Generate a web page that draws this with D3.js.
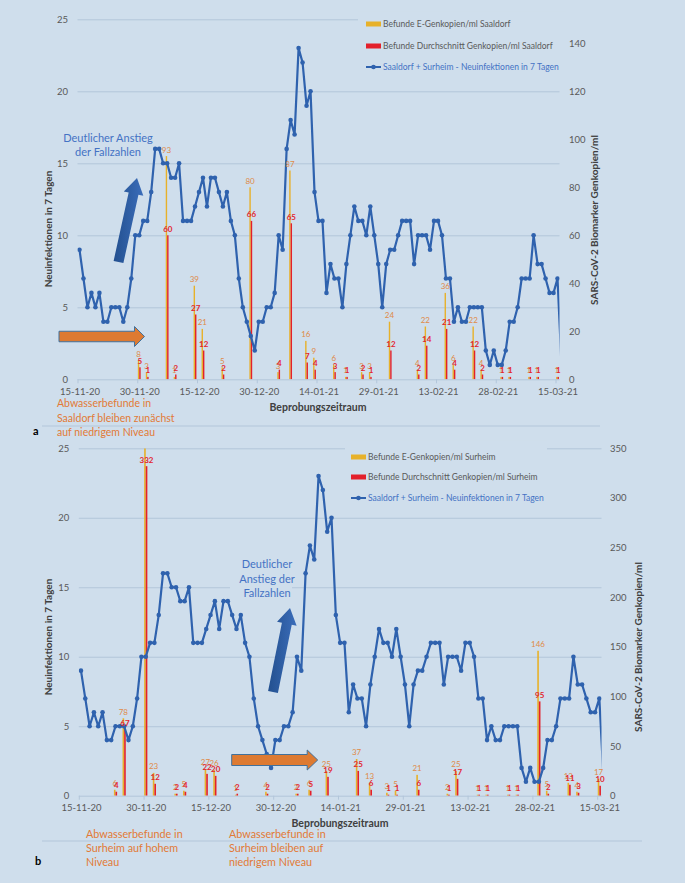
<!DOCTYPE html>
<html>
<head>
<meta charset="utf-8">
<script src="https://cdn.jsdelivr.net/npm/d3@7"></script>
<style>
  body { margin: 0; background: #cfdeec; }
  svg { display: block; font-family: Lato, "Open Sans", sans-serif; }
</style>
</head>
<body>
<script>
// daily 7-day new infections Saaldorf + Surheim, from 15-11-20 (last value is 16-03-21, clipped by the axis)
const caseStart = "15-11-20";
const cases = [
  9, 7, 5, 6, 5, 6, 4, 4, 5, 5, 5, 4, 5,
  7, 10, 10, 11, 11, 13, 16, 16, 15, 15, 14, 14, 15,
  11, 11, 11, 12, 13, 14, 12, 14, 14, 13, 12, 13, 11, 10,
  7, 5, 4, 3, 2, 4, 4, 5, 5, 6, 10, 9,
  16, 18, 17, 23, 22, 19, 20, 13, 11,
  11, 6, 8, 7, 7, 5, 8, 10, 12, 11, 11, 10, 12, 10, 8, 5, 8, 9, 9, 10,
  11, 11, 11, 8, 10, 10, 10, 9, 11, 11, 10, 7, 7, 4, 5, 4, 4, 5, 5, 5,
  5, 2, 1, 2, 1, 1, 2, 4, 4, 5, 7, 7, 7, 10, 8, 8, 7, 6, 6, 7,
  1
];
const axisLabels = ["15-11-20", "30-11-20", "15-12-20", "30-12-20", "14-01-21",
  "29-01-21", "13-02-21", "28-02-21", "15-03-21"];

// Saaldorf wastewater samples
const saaldorfDates = ["30-11-20", "02-12-20", "07-12-20", "09-12-20", "14-12-20", "16-12-20",
  "21-12-20", "28-12-20", "04-01-21", "07-01-21", "11-01-21", "13-01-21", "18-01-21",
  "21-01-21", "25-01-21", "27-01-21", "01-02-21", "08-02-21", "10-02-21", "15-02-21",
  "17-02-21", "22-02-21", "24-02-21", "01-03-21", "03-03-21", "08-03-21", "10-03-21", "15-03-21"];
const saaldorfE = [8, 3, 93, 1, 39, 21, 5, 80, 3, 87, 16, 9, 6, 1, 3, 3, 24, 4, 22, 36, 6, 22, 4, 1, 1, 1, 1, 1];
const saaldorfAvg = [5, 1, 60, 2, 27, 12, 2, 66, 4, 65, 7, 4, 3, 1, 2, 1, 12, 2, 14, 21, 4, 12, 2, 1, 1, 1, 1, 1];

// Surheim wastewater samples
const surheimDates = ["23-11-20", "25-11-20", "30-11-20", "02-12-20", "07-12-20", "09-12-20",
  "14-12-20", "16-12-20", "21-12-20", "28-12-20", "04-01-21", "07-01-21", "11-01-21",
  "18-01-21", "21-01-21", "25-01-21", "27-01-21", "01-02-21", "08-02-21", "10-02-21",
  "15-02-21", "17-02-21", "22-02-21", "24-02-21", "01-03-21", "03-03-21", "08-03-21",
  "10-03-21", "15-03-21"];
const surheimE = [6, 78, 400, 23, 2, 5, 27, 26, 1, 4, 2, 6, 25, 37, 13, 3, 5, 21, 2, 25, 1, 1, 1, 1, 146, 5, 13, 4, 17];
const surheimAvg = [4, 67, 332, 12, 2, 4, 22, 20, 2, 2, 2, 5, 19, 25, 6, 1, 1, 6, 1, 17, 1, 1, 1, 1, 95, 2, 11, 3, 10];

const bg = "#cfdeec", grid = "#b3c6da", axisText = "#595959";
const yellow = "#e7b12a", red = "#e3202b", lineBlue = "#2f62ae";
const orangeText = "#e27a36", blueText = "#4472c4";

const parse = d3.utcParse("%d-%m-%y");
const caseDates = cases.map((_, i) => d3.utcDay.offset(parse(caseStart), i));
const tickDates = axisLabels.map(parse);

const svg = d3.select("body").append("svg").attr("width", 685).attr("height", 883);

const defs = svg.append("defs");
const grad = defs.append("linearGradient").attr("id", "blueArrow")
  .attr("x1", 0).attr("y1", 0).attr("x2", 1).attr("y2", 0);
grad.append("stop").attr("offset", "0%").attr("stop-color", "#23508f");
grad.append("stop").attr("offset", "100%").attr("stop-color", "#3b6dba");

// block arrow polygon from tail to tip
const arrowPath = (x1, y1, x2, y2, sw, hw, hl) => {
  const L = Math.hypot(x2 - x1, y2 - y1), ux = (x2 - x1) / L, uy = (y2 - y1) / L;
  const nx = -uy, ny = ux;
  const nk = [x1 + ux * (L - hl), y1 + uy * (L - hl)];
  const p = [
    [x1 + nx * sw / 2, y1 + ny * sw / 2],
    [nk[0] + nx * sw / 2, nk[1] + ny * sw / 2],
    [nk[0] + nx * hw / 2, nk[1] + ny * hw / 2],
    [x2, y2],
    [nk[0] - nx * hw / 2, nk[1] - ny * hw / 2],
    [nk[0] - nx * sw / 2, nk[1] - ny * sw / 2],
    [x1 - nx * sw / 2, y1 - ny * sw / 2]
  ];
  return "M" + p.map(d => d.join(",")).join("L") + "Z";
};

const panel = (p) => {
  const g = svg.append("g");
  const x = d3.scaleUtc()
    .domain([d3.utcHour.offset(tickDates[0], -12), d3.utcHour.offset(tickDates[tickDates.length - 1], 12)])
    .range([p.x0, p.x1]);
  const yL = d3.scaleLinear().domain([0, 25]).range([p.y0, p.y1]);
  const yR = d3.scaleLinear().domain([0, p.rMax]).range([p.y0, p.y1]);

  defs.append("clipPath").attr("id", "clip" + p.id)
    .append("rect").attr("x", p.x0).attr("y", p.y1).attr("width", p.x1 - p.x0).attr("height", p.y0 - p.y1);

  // gridlines + left axis
  g.append("g")
    .attr("transform", `translate(${p.x0},0)`)
    .call(d3.axisLeft(yL).tickValues([0, 5, 10, 15, 20, 25]).tickSize(-(p.x1 - p.x0)).tickPadding(9.5))
    .call(a => a.select(".domain").remove())
    .call(a => a.selectAll("line").attr("stroke", grid).attr("stroke-width", 1))
    .call(a => a.selectAll("text").attr("fill", axisText).style("font-size", "9.5px").style("font-family", "Lato"));

  // right axis
  g.append("g")
    .attr("transform", `translate(${p.x1},0)`)
    .call(d3.axisRight(yR).tickValues(d3.range(0, p.rMax + 1, p.rStep).filter(v => v <= p.rMax)).tickSize(0).tickPadding(p.rPad))
    .call(a => a.select(".domain").remove())
    .call(a => a.selectAll("text").attr("fill", axisText).style("font-size", "9.5px").style("font-family", "Lato"));

  // x axis labels and ticks
  g.append("g")
    .attr("transform", `translate(0,${p.y0})`)
    .call(d3.axisBottom(x).tickValues(tickDates).tickFormat(d3.utcFormat("%d-%m-%y")).tickSize(0).tickPadding(p.xPad))
    .call(a => a.select(".domain").remove())
    .call(a => a.selectAll("text").attr("fill", axisText).style("font-size", "9.5px").style("font-family", "Lato"));
  g.append("g")
    .attr("transform", `translate(0,${p.y0})`)
    .call(d3.axisBottom(x).tickValues(tickDates.map(d => d3.utcHour.offset(d, -12))).tickFormat("").tickSize(4))
    .call(a => a.select(".domain").remove())
    .call(a => a.selectAll("line").attr("stroke", grid));

  // legend box hides the top gridline
  g.append("rect").attr("x", p.legX0).attr("y", p.y1 - 8).attr("width", p.legX1 - p.legX0).attr("height", 70).attr("fill", bg);

  // bars
  const samples = p.dates.map((d, i) => ({ date: parse(d), e: p.E[i], avg: p.avg[i] }));
  const bw = p.bw;
  const bars = g.append("g").attr("clip-path", `url(#clip${p.id})`);
  bars.selectAll("rect.e").data(samples).join("rect")
    .attr("x", d => x(d.date) - bw).attr("width", bw)
    .attr("y", d => yR(Math.min(d.e, p.rMax))).attr("height", d => yR(0) - yR(Math.min(d.e, p.rMax)))
    .attr("fill", yellow);
  bars.selectAll("rect.avg").data(samples).join("rect")
    .attr("x", d => x(d.date)).attr("width", bw)
    .attr("y", d => yR(d.avg)).attr("height", d => yR(0) - yR(d.avg))
    .attr("fill", red);

  // line
  const pts = caseDates.map((d, i) => ({ date: d, v: cases[i] }));
  const lg = g.append("g").attr("clip-path", `url(#clip${p.id})`);
  lg.append("path").datum(pts)
    .attr("fill", "none").attr("stroke", lineBlue).attr("stroke-width", 2.2).attr("stroke-linejoin", "round")
    .attr("d", d3.line().x(d => x(d.date)).y(d => yL(d.v)));
  lg.selectAll("circle").data(pts.filter(d => d.date <= tickDates[tickDates.length - 1])).join("circle")
    .attr("cx", d => x(d.date)).attr("cy", d => yL(d.v)).attr("r", 2.3).attr("fill", lineBlue);

  // data labels
  const lab = g.append("g").attr("text-anchor", "middle").style("font-size", "8px");
  lab.selectAll("text.e").data(samples.filter(d => d.e <= p.rMax)).join("text")
    .attr("x", d => x(d.date) - bw / 2).attr("y", d => yR(d.e) - 3.5)
    .attr("fill", "#df8a48").text(d => d.e);
  lab.selectAll("text.avg").data(samples).join("text")
    .attr("x", d => x(d.date) + bw / 2).attr("y", d => yR(d.avg) - 3.5)
    .attr("fill", "#e2262f").attr("font-weight", "bold").text(d => d.avg);

  // axis titles
  g.append("text").attr("transform", `translate(${p.lTitle[0]},${p.lTitle[1]}) rotate(-90)`)
    .attr("text-anchor", "middle").attr("dy", "0.35em").attr("fill", "#404040")
    .style("font-size", "10px").attr("font-weight", "bold").text("Neuinfektionen in 7 Tagen");
  g.append("text").attr("transform", `translate(${p.rTitle[0]},${p.rTitle[1]}) rotate(-90)`)
    .attr("text-anchor", "middle").attr("dy", "0.35em").attr("fill", "#404040")
    .style("font-size", "10px").attr("font-weight", "bold").text("SARS-CoV-2 Biomarker Genkopien/ml");
  g.append("text").attr("x", p.xTitle[0]).attr("y", p.xTitle[1])
    .attr("text-anchor", "middle").attr("fill", "#404040")
    .style("font-size", "10.5px").attr("font-weight", "bold").text("Beprobungszeitraum");

  // legend
  const leg = g.append("g").style("font-size", "8.5px");
  p.legNames.forEach((name, i) => {
    const ly = p.legY[i];
    if (i < 2) {
      leg.append("rect").attr("x", p.legSw).attr("y", ly - 2.5).attr("width", 15).attr("height", 5)
        .attr("fill", i === 0 ? yellow : red);
    } else {
      leg.append("line").attr("x1", p.legSw).attr("x2", p.legSw + 15).attr("y1", ly).attr("y2", ly)
        .attr("stroke", lineBlue).attr("stroke-width", 2);
      leg.append("circle").attr("cx", p.legSw + 7.5).attr("cy", ly).attr("r", 2.3).attr("fill", lineBlue);
    }
    leg.append("text").attr("x", p.legSw + 17).attr("y", ly).attr("dy", "0.35em")
      .attr("fill", i < 2 ? axisText : blueText).text(name);
  });
};

// separator lines
svg.append("line").attr("x1", 42).attr("x2", 600).attr("y1", 426).attr("y2", 426).attr("stroke", grid);
svg.append("line").attr("x1", 42).attr("x2", 642).attr("y1", 841).attr("y2", 841).attr("stroke", grid);

panel({
  id: "a", x0: 77.5, x1: 559.5, y0: 379.3, y1: 19.3, rMax: 150, rStep: 20, rPad: 9.5, xPad: 8.8, bw: 1.4,
  dates: saaldorfDates, E: saaldorfE, avg: saaldorfAvg,
  lTitle: [48, 229], rTitle: [594, 220], xTitle: [318, 411],
  legX0: 358, legX1: 566, legSw: 366, legY: [24, 46, 67],
  legNames: ["Befunde E-Genkopien/ml Saaldorf", "Befunde Durchschnitt Genkopien/ml Saaldorf",
    "Saaldorf + Surheim - Neuinfektionen in 7 Tagen"]
});
panel({
  id: "b", x0: 78.8, x1: 601.5, y0: 795.7, y1: 448.3, rMax: 350, rStep: 50, rPad: 8.5, xPad: 8.4, bw: 1.6,
  dates: surheimDates, E: surheimE, avg: surheimAvg,
  lTitle: [48, 637], rTitle: [638, 647], xTitle: [340, 827],
  legX0: 345, legX1: 547, legSw: 351, legY: [457, 477, 498],
  legNames: ["Befunde E-Genkopien/ml Surheim", "Befunde Durchschnitt Genkopien/ml Surheim",
    "Saaldorf + Surheim - Neuinfektionen in 7 Tagen"]
});

// annotations
const note = (lines, x0, y0, anchor, color, size, step) => {
  const t = svg.append("text").attr("text-anchor", anchor).attr("fill", color).style("font-size", size + "px");
  lines.forEach((s, i) => t.append("tspan").attr("x", x0).attr("y", y0 + i * step).text(s));
};

// panel a shapes
svg.append("path").attr("d", arrowPath(118.5, 262, 137, 178, 10, 20, 16)).attr("fill", "url(#blueArrow)");
svg.append("path").attr("d", arrowPath(59, 336.5, 144.5, 336.5, 10.5, 20, 10))
  .attr("fill", "#dd7a32").attr("stroke", "#41719c").attr("stroke-width", 1);
note(["Deutlicher Anstieg", "der Fallzahlen"], 108, 142, "middle", blueText, 11, 14);
note(["Abwasserbefunde in", "Saaldorf bleiben zunächst", "auf niedrigem Niveau"], 57, 407, "start", orangeText, 10.5, 14.5);
svg.append("text").attr("x", 33).attr("y", 435).attr("font-weight", "bold").style("font-size", "11px").text("a");

// panel b shapes
svg.append("rect").attr("x", 230).attr("y", 556).attr("width", 62).attr("height", 45).attr("fill", bg);
note(["Deutlicher", "Anstieg der", "Fallzahlen"], 267, 568, "middle", blueText, 11, 14.5);
svg.append("path").attr("d", arrowPath(273, 692, 290, 608, 10, 20, 16)).attr("fill", "url(#blueArrow)");
svg.append("path").attr("d", arrowPath(231.7, 760, 317.7, 760, 11, 20, 10.5))
  .attr("fill", "#dd7a32").attr("stroke", "#41719c").attr("stroke-width", 1);
note(["Abwasserbefunde in", "Surheim auf hohem", "Niveau"], 86, 838, "start", orangeText, 10.8, 14);
note(["Abwasserbefunde in", "Surheim bleiben auf", "niedrigem Niveau"], 229, 838, "start", orangeText, 10.8, 14);
svg.append("text").attr("x", 35).attr("y", 865).attr("font-weight", "bold").style("font-size", "11px").text("b");
</script>
</body>
</html>
